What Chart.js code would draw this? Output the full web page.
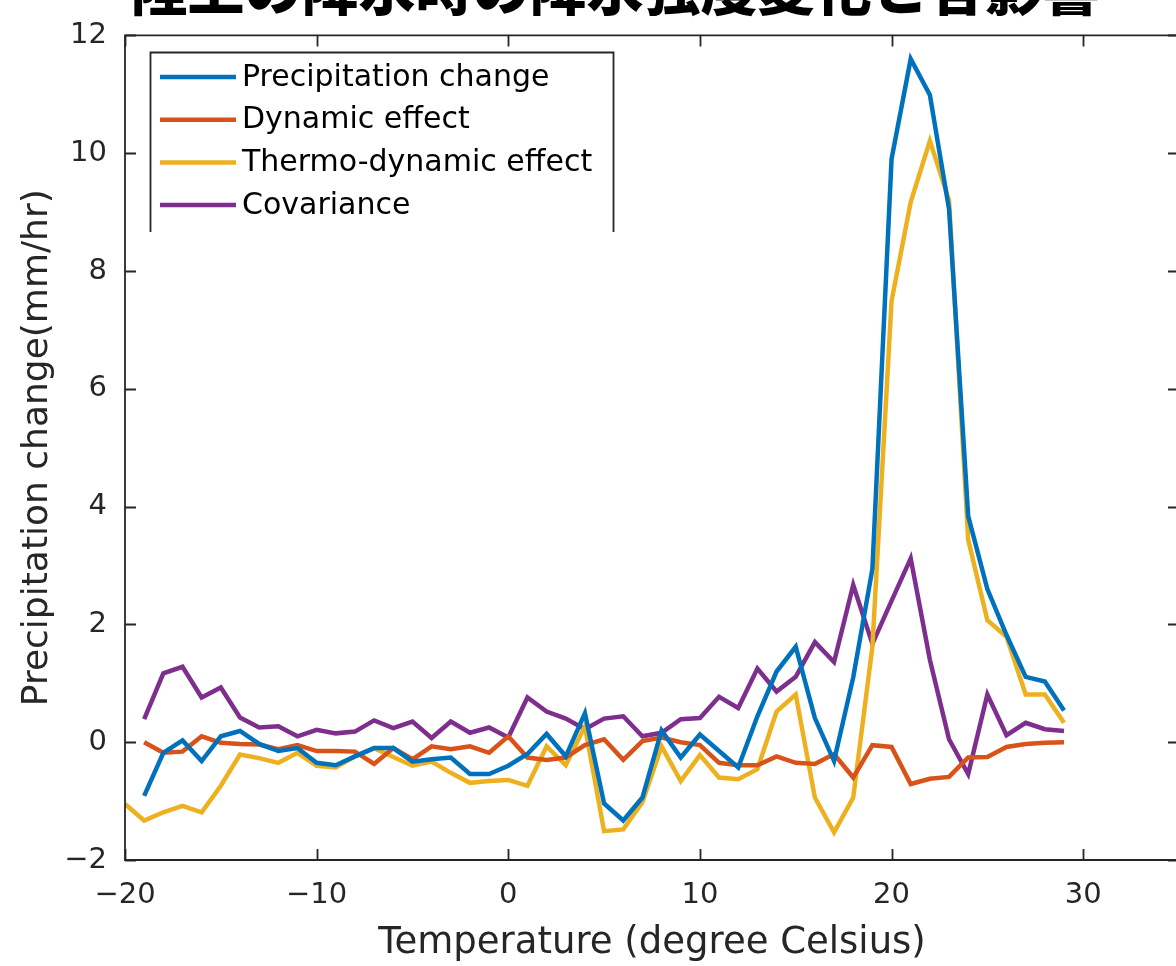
<!DOCTYPE html>
<html>
<head>
<meta charset="utf-8">
<script src="https://cdn.jsdelivr.net/npm/chart.js@4.4.1/dist/chart.umd.min.js"></script>
<style>
html,body{margin:0;padding:0;background:#fff;overflow:hidden;}
#wrap{width:1200px;height:966px;}
</style>
</head>
<body>
<div id="wrap"><canvas id="c" width="1200" height="966"></canvas></div>
<script>
const chartTitle = '陸上の降水時の降水強度変化と各影響';
const xTitle = 'Temperature (degree Celsius)';
const yTitle = 'Precipitation change(mm/hr)';
const seriesNames = ['Precipitation change', 'Dynamic effect', 'Thermo-dynamic effect', 'Covariance'];
const seriesColors = ['#0072BD', '#D95319', '#EDB120', '#7E2F8E'];

const temps = [-20,-19,-18,-17,-16,-15,-14,-13,-12,-11,-10,-9,-8,-7,-6,-5,-4,-3,-2,-1,
  0,1,2,3,4,5,6,7,8,9,10,11,12,13,14,15,16,17,18,19,20,21,22,23,24,25,26,27,28,29];

const precipChange = [null,-0.91,-0.18,0.03,-0.32,0.10,0.19,-0.03,-0.15,-0.10,-0.35,-0.39,-0.24,-0.10,-0.10,-0.33,-0.29,-0.26,-0.54,-0.54,
  -0.40,-0.20,0.14,-0.24,0.49,-1.04,-1.33,-0.94,0.20,-0.26,0.13,-0.15,-0.43,0.44,1.20,1.62,0.41,-0.32,1.10,2.94,
  9.90,11.60,10.99,9.05,3.84,2.60,1.82,1.11,1.03,0.54];

const dynamicEffect = [null,0.00,-0.18,-0.16,0.10,-0.01,-0.03,-0.04,-0.12,-0.05,-0.15,-0.15,-0.16,-0.37,-0.10,-0.29,-0.07,-0.12,-0.07,-0.18,
  0.10,-0.26,-0.30,-0.26,-0.05,0.05,-0.30,0.02,0.08,0.00,-0.05,-0.35,-0.39,-0.39,-0.24,-0.35,-0.37,-0.20,-0.60,-0.05,
  -0.08,-0.71,-0.62,-0.59,-0.26,-0.25,-0.08,-0.03,-0.01,0.00];

const thermoEffect = [-1.05,-1.33,-1.19,-1.08,-1.19,-0.74,-0.21,-0.27,-0.35,-0.18,-0.40,-0.43,-0.24,-0.10,-0.25,-0.40,-0.33,-0.52,-0.69,-0.66,
  -0.64,-0.74,-0.07,-0.39,0.27,-1.51,-1.48,-1.02,-0.07,-0.66,-0.22,-0.60,-0.63,-0.46,0.52,0.81,-0.94,-1.53,-0.94,1.62,
  7.49,9.17,10.21,9.20,3.44,2.07,1.79,0.81,0.81,0.33];

const covariance = [null,0.39,1.17,1.28,0.76,0.93,0.42,0.25,0.27,0.10,0.21,0.15,0.18,0.37,0.24,0.35,0.07,0.35,0.16,0.25,
  0.08,0.76,0.52,0.40,0.22,0.40,0.44,0.10,0.16,0.39,0.41,0.77,0.58,1.25,0.86,1.11,1.70,1.36,2.67,1.67,
  2.40,3.12,1.40,0.05,-0.54,0.81,0.12,0.33,0.22,0.19];

const xTickValues = [-20,-10,0,10,20,30];
const yTickValues = [-2,0,2,4,6,8,10,12];

const allSeries = [precipChange, dynamicEffect, thermoEffect, covariance];
const datasets = allSeries.map((arr, i) => ({
  label: seriesNames[i],
  data: temps.map((t, j) => ({x: t, y: arr[j]})),
  borderColor: seriesColors[i],
  backgroundColor: seriesColors[i],
  borderWidth: 4.5,
  pointRadius: 0,
  tension: 0,
  spanGaps: false
}));

const AXIS_COLOR = '#262626';
const fmt = v => (v < 0 ? '\u2212' + Math.abs(v) : String(v));

const framePlugin = {
  id: 'frame',
  afterDatasetsDraw(chart) {
    const ctx = chart.ctx, a = chart.chartArea;
    const xs = chart.scales.x, ys = chart.scales.y;
    ctx.save();
    ctx.strokeStyle = AXIS_COLOR;
    ctx.lineWidth = 1.8;
    ctx.beginPath();
    ctx.rect(a.left, a.top, a.right - a.left, a.bottom - a.top);
    ctx.stroke();
    const tl = 11;
    ctx.beginPath();
    xTickValues.forEach(v => {
      const px = Math.round(xs.getPixelForValue(v)) + 0.5;
      ctx.moveTo(px, a.bottom); ctx.lineTo(px, a.bottom - tl);
      ctx.moveTo(px, a.top); ctx.lineTo(px, a.top + tl);
    });
    yTickValues.forEach(v => {
      const py = Math.round(ys.getPixelForValue(v)) + 0.5;
      ctx.moveTo(a.left, py); ctx.lineTo(a.left + tl, py);
      ctx.moveTo(a.right, py); ctx.lineTo(a.right - tl, py);
    });
    ctx.stroke();
    ctx.restore();
  }
};

const legendPlugin = {
  id: 'matlabLegend',
  afterDraw(chart) {
    const ctx = chart.ctx;
    const L = 150, T = 52, R = 613, B = 232;
    ctx.save();
    ctx.fillStyle = '#fff';
    ctx.fillRect(L, T, R - L, B - T);
    ctx.strokeStyle = AXIS_COLOR;
    ctx.lineWidth = 1.8;
    ctx.beginPath();
    ctx.moveTo(L + 0.5, B); ctx.lineTo(L + 0.5, T + 0.5); ctx.lineTo(R + 0.5, T + 0.5); ctx.lineTo(R + 0.5, B);
    ctx.stroke();
    ctx.font = '30px "DejaVu Sans"';
    ctx.textBaseline = 'middle';
    ctx.textAlign = 'left';
    chart.data.datasets.forEach((ds, i) => {
      const y = 77 + i * 42.7;
      ctx.strokeStyle = ds.borderColor;
      ctx.lineWidth = 4.5;
      ctx.beginPath();
      ctx.moveTo(160, y); ctx.lineTo(236, y);
      ctx.stroke();
      ctx.fillStyle = '#000';
      ctx.fillText(ds.label, 242, y + 1);
    });
    ctx.restore();
  }
};

const titlePlugin = {
  id: 'cutTitle',
  afterDraw(chart) {
    const ctx = chart.ctx;
    ctx.save();
    ctx.font = '900 57px "Noto Sans CJK JP"';
    ctx.fillStyle = '#000';
    ctx.textAlign = 'center';
    ctx.textBaseline = 'alphabetic';
    ctx.fillText(chartTitle, 615, 10);
    ctx.restore();
  }
};

new Chart(document.getElementById('c'), {
  type: 'line',
  data: { datasets },
  options: {
    responsive: false,
    devicePixelRatio: 1,
    animation: false,
    layout: { padding: { top: 29, right: 21, left: 0, bottom: 0 } },
    plugins: { legend: { display: false }, tooltip: { enabled: false }, title: { display: false } },
    scales: {
      x: {
        type: 'linear',
        min: -20, max: 35,
        afterFit: s => { s.height = 106; },
        afterBuildTicks: s => { s.ticks = xTickValues.map(v => ({ value: v })); },
        grid: { display: false, drawTicks: false },
        border: { display: false },
        ticks: { padding: 18, color: AXIS_COLOR, font: { family: 'DejaVu Sans', size: 29 }, callback: v => fmt(v), maxRotation: 0, autoSkip: false },
        title: { display: true, text: xTitle, color: AXIS_COLOR, font: { family: 'DejaVu Sans', size: 37 }, padding: { top: 0, bottom: 0 } }
      },
      y: {
        type: 'linear',
        min: -2, max: 12,
        afterFit: s => { s.width = 125; },
        afterBuildTicks: s => { s.ticks = yTickValues.map(v => ({ value: v })); },
        grid: { display: false, drawTicks: false },
        border: { display: false },
        ticks: { padding: 18, color: AXIS_COLOR, font: { family: 'DejaVu Sans', size: 29 }, callback: v => fmt(v), autoSkip: false },
        title: { display: true, text: yTitle, color: AXIS_COLOR, font: { family: 'DejaVu Sans', size: 36 }, padding: { top: 16, bottom: 0 } }
      }
    }
  },
  plugins: [framePlugin, legendPlugin, titlePlugin]
});
</script>
</body>
</html>
